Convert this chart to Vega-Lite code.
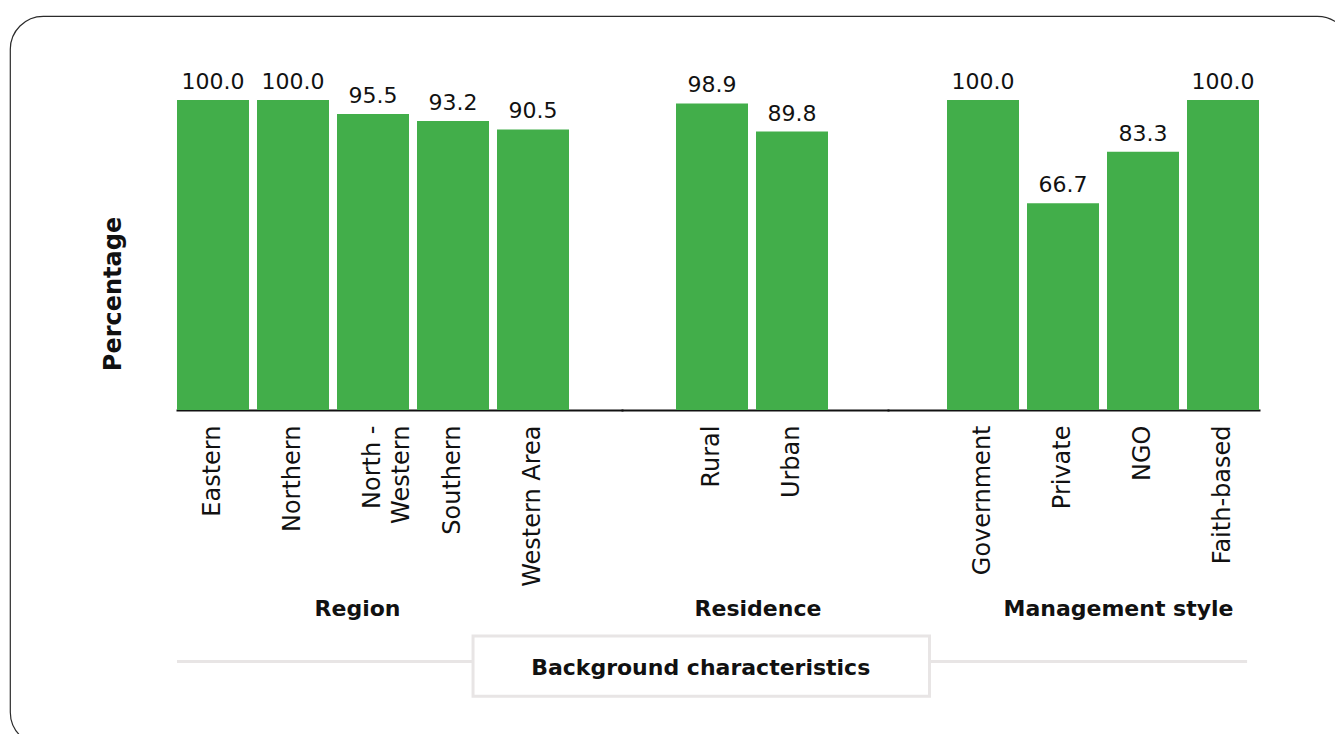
{
  "$schema": "https://vega.github.io/schema/vega-lite/v6.json",
  "width": 1340,
  "height": 729,
  "autosize": "none",
  "padding": {"left": 10, "top": 16, "right": 0, "bottom": 0},
  "background": "white",
  "config": {
    "font": "DejaVu Sans",
    "view": {"stroke": "#2b2b2b", "strokeWidth": 1.2, "cornerRadius": 33, "fill": "white"},
    "axisX": {
      "domain": true,
      "domainColor": "#111111",
      "domainWidth": 2,
      "domainCap": "square",
      "ticks": false,
      "grid": false,
      "labelAngle": -90,
      "labelPadding": 15,
      "labelFont": "DejaVu Sans",
      "labelFontSize": 24,
      "labelColor": "#111111",
      "labelLineHeight": 29,
      "labelLimit": 0,
      "titleFont": "DejaVu Sans",
      "titleFontSize": 22,
      "titleFontWeight": "bold",
      "titleColor": "#111111",
      "titleY": 198,
      "titleAlign": "center",
      "titleBaseline": "middle"
    }
  },
  "datasets": {
    "pct": [
      {"group": "Region", "category": "Eastern", "value": 100.0},
      {"group": "Region", "category": "Northern", "value": 100.0},
      {"group": "Region", "category": "North - Western", "value": 95.5},
      {"group": "Region", "category": "Southern", "value": 93.2},
      {"group": "Region", "category": "Western Area", "value": 90.5},
      {"group": "Residence", "category": "Rural", "value": 98.9},
      {"group": "Residence", "category": "Urban", "value": 89.8},
      {"group": "Management style", "category": "Government", "value": 100.0},
      {"group": "Management style", "category": "Private", "value": 66.7},
      {"group": "Management style", "category": "NGO", "value": 83.3},
      {"group": "Management style", "category": "Faith-based", "value": 100.0}
    ],
    "footer": [
      {"label": "Background characteristics"}
    ]
  },
  "layer": [
    {
      "data": {"name": "pct"},
      "transform": [{"filter": "datum.group === 'Region'"}],
      "encoding": {
        "x": {
          "field": "category",
          "type": "nominal",
          "sort": ["Eastern", "Northern", "North - Western", "Southern", "Western Area"],
          "scale": {"range": [167, 612], "paddingInner": 0.1, "paddingOuter": 0.33125, "align": 0},
          "axis": {
            "orient": "bottom",
            "offset": -335,
            "title": "Region",
            "titleX": 347,
            "labelExpr": "datum.value === 'North - Western' ? ['North -', 'Western'] : datum.value"
          }
        },
        "y": {
          "field": "value",
          "type": "quantitative",
          "scale": {"domain": [0, 100], "range": [394, 84], "nice": false, "zero": true},
          "axis": {
            "orient": "left",
            "domain": false,
            "ticks": false,
            "labels": false,
            "grid": false,
            "title": "Percentage",
            "titleFont": "DejaVu Sans",
            "titleFontSize": 24,
            "titleFontWeight": "bold",
            "titleColor": "#111111",
            "titleAngle": -90,
            "titleX": 103,
            "titleY": 277.5,
            "titleAlign": "center",
            "titleBaseline": "middle"
          }
        }
      },
      "layer": [
        {"mark": {"type": "bar", "color": "#42ae4a"}},
        {
          "mark": {"type": "text", "dy": -11, "baseline": "alphabetic", "fontSize": 22, "color": "#111111"},
          "encoding": {"text": {"field": "value", "type": "quantitative", "format": ".1f"}}
        }
      ]
    },
    {
      "data": {"name": "pct"},
      "transform": [{"filter": "datum.group === 'Residence'"}],
      "encoding": {
        "x": {
          "field": "category",
          "type": "nominal",
          "sort": ["Rural", "Urban"],
          "scale": {"range": [612, 878], "paddingInner": 0.1, "paddingOuter": 0.7125, "align": 0.4737},
          "axis": {"orient": "bottom", "offset": -335, "title": "Residence", "titleX": 747.5}
        },
        "y": {"field": "value", "type": "quantitative"}
      },
      "layer": [
        {"mark": {"type": "bar", "color": "#42ae4a"}},
        {
          "mark": {"type": "text", "dy": -11, "baseline": "alphabetic", "fontSize": 22, "color": "#111111"},
          "encoding": {"text": {"field": "value", "type": "quantitative", "format": ".1f"}}
        }
      ]
    },
    {
      "data": {"name": "pct"},
      "transform": [{"filter": "datum.group === 'Management style'"}],
      "encoding": {
        "x": {
          "field": "category",
          "type": "nominal",
          "sort": ["Government", "Private", "NGO", "Faith-based"],
          "scale": {"range": [878, 1249], "paddingInner": 0.1, "paddingOuter": 0.36875, "align": 1},
          "axis": {"orient": "bottom", "offset": -335, "title": "Management style", "titleX": 1108}
        },
        "y": {"field": "value", "type": "quantitative"}
      },
      "layer": [
        {"mark": {"type": "bar", "color": "#42ae4a"}},
        {
          "mark": {"type": "text", "dy": -11, "baseline": "alphabetic", "fontSize": 22, "color": "#111111"},
          "encoding": {"text": {"field": "value", "type": "quantitative", "format": ".1f"}}
        }
      ]
    },
    {
      "data": {"name": "footer"},
      "layer": [
        {
          "mark": {"type": "rule", "color": "#e8e5e5", "strokeWidth": 3},
          "encoding": {
            "x": {"datum": 0, "type": "quantitative", "scale": {"domain": [0, 100], "range": [167, 1249], "nice": false, "zero": false}, "axis": null},
            "x2": {"datum": 98.9},
            "y": {"datum": -81.1, "type": "quantitative"}
          }
        },
        {
          "mark": {"type": "rect", "fill": "white", "stroke": "#e8e5e5", "strokeWidth": 3},
          "encoding": {
            "x": {"datum": 27.36, "type": "quantitative"},
            "x2": {"datum": 69.55},
            "y": {"datum": -72.9, "type": "quantitative"},
            "y2": {"datum": -92.3}
          }
        },
        {
          "mark": {"type": "text", "fontSize": 22, "fontWeight": "bold", "color": "#111111", "baseline": "middle", "align": "center"},
          "encoding": {
            "x": {"datum": 48.4, "type": "quantitative"},
            "y": {"datum": -83.2, "type": "quantitative"},
            "text": {"field": "label", "type": "nominal"}
          }
        }
      ]
    }
  ],
  "resolve": {"scale": {"x": "independent"}, "axis": {"x": "independent"}}
}
